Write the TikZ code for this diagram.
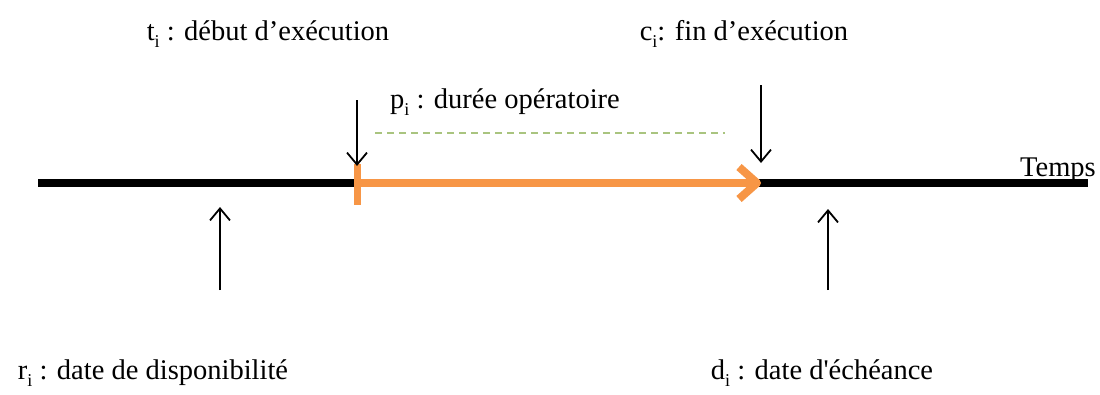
\documentclass[tikz,border=0pt]{standalone}
\usepackage{fontspec}
\setmainfont{Liberation Serif}
\usepackage{xcolor}
\usepackage{tikz}
\usetikzlibrary{positioning,arrows.meta}
\definecolor{cline}{HTML}{000000}
\definecolor{corange}{HTML}{F79646}
\definecolor{cdash}{HTML}{A9C47F}
\newcommand\idx[1]{\raisebox{-0.28em}{\fontsize{18}{18}\selectfont #1}}

\begin{document}
\begin{tikzpicture}[x=1pt,y=-1pt,
    lbl/.style={font=\fontsize{28.5}{32}\selectfont,inner sep=0pt,anchor=base},
    pointer/.style={draw=cline,line width=1.8pt,-{Straight Barb[length=12pt,width=20pt]}}]
  \useasboundingbox (0,0) rectangle (1100,394);
  % axe du temps
  \coordinate (t0) at (38,183);
  \coordinate (t1) at (1088,183);
  \coordinate (ti) at (357,183);
  \coordinate (ci) at (761,183);
  \coordinate (ri) at (220,207);
  \coordinate (di) at (828,209);
  \draw[cline,line width=8pt] (t0) -- (t1);
  \node[lbl] (temps) at (1058,176) {Temps};
  % labels
  \node[lbl] (lti) at (268,40) {t\idx{i} : début d’exécution};
  \node[lbl] (lci) at (744,40) {c\idx{i}: fin d’exécution};
  \node[lbl] (lpi) at (505,108) {p\idx{i} : durée opératoire};
  \node[lbl] (lri) at (153,379) {r\idx{i} : date de disponibilité};
  \node[lbl] (ldi) at (822,379) {d\idx{i} : date d\textquotesingle échéance};
  \coordinate (pa) at (375,133);
  \coordinate (pb) at (725,133);
  \draw[cdash,line width=1.5pt,dash pattern=on 7pt off 5pt] (pa) -- (pb);
  % duree operatoire
  \coordinate (tka) at (357,164);
  \coordinate (tkb) at (357,205);
  \draw[corange,line width=7pt] (tka) -- (tkb);
  \draw[corange,line width=8pt,-{Straight Barb[length=18pt,width=32pt,line join=round]}] (ti) -- (ci);
  % fleches
  \coordinate (ati) at (357,100);
  \coordinate (aci) at (761,85);
  \coordinate (ari) at (220,290);
  \coordinate (adi) at (828,290);
  \draw[pointer] (ati) -- ([yshift=-2pt]tka);
  \draw[pointer] (aci) -- (761,163);
  \draw[pointer] (ari) -- (ri);
  \draw[pointer] (adi) -- (di);
\end{tikzpicture}
\end{document}
